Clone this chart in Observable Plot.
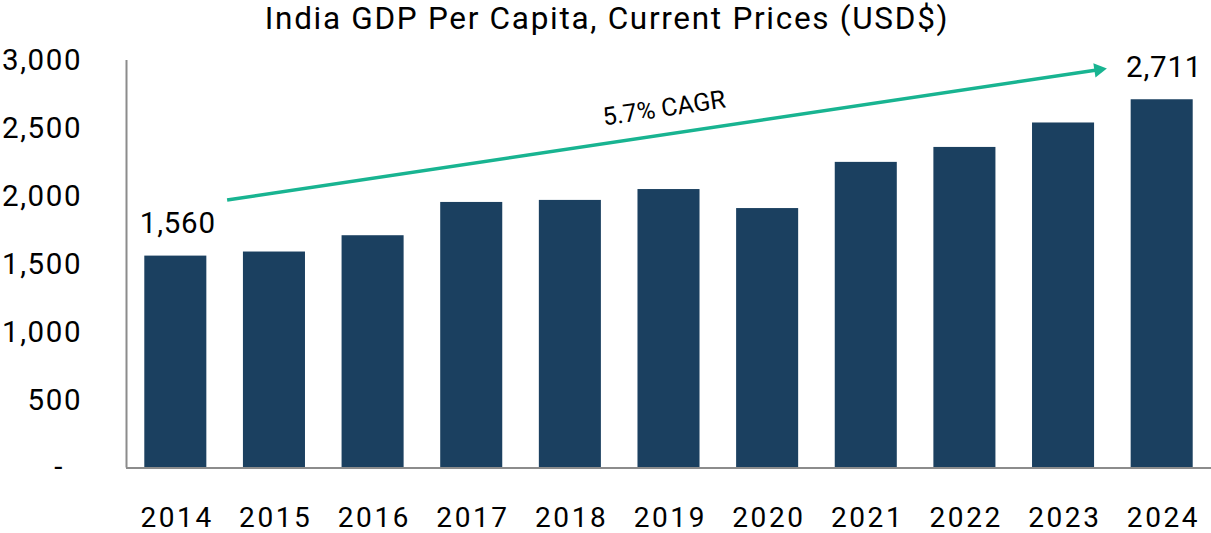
<!DOCTYPE html>
<html>
<head>
<meta charset="utf-8">
<script src="https://cdn.jsdelivr.net/npm/d3@7"></script>
<script src="https://cdn.jsdelivr.net/npm/@observablehq/plot@0.6"></script>
<style>
  html, body { margin: 0; padding: 0; background: #fff; overflow: hidden; }
  #chart svg { display: block; }
  #chart g[aria-label="y-axis tick label"] text { letter-spacing: 1.6px; }
  #chart g[aria-label="x-axis tick label"] text { letter-spacing: 2.6px; }
</style>
</head>
<body>
<div id="chart"></div>
<script>
// ---- data ----
const title = "India GDP Per Capita, Current Prices (USD$)";
const years = [2014, 2015, 2016, 2017, 2018, 2019, 2020, 2021, 2022, 2023, 2024];
const gdpPerCapita = [1560, 1590, 1710, 1955, 1970, 2050, 1910, 2250, 2360, 2540, 2711];
const yTicks = [0, 500, 1000, 1500, 2000, 2500, 3000];
const labelledYears = [2014, 2024];
const cagrLabel = "5.7% CAGR";
// annotation arrow: [year position, value] of start and end
const arrowStart = [2014.52, 1973];
const arrowEnd = [2023.355, 2932];
const cagrLabelPos = [2018.95, 2647];

const data = years.map((year, i) => ({year, value: gdpPerCapita[i]}));
const labelled = data.filter(d => labelledYears.includes(d.year));

const navy = "#1b4060";
const teal = "#18b491";
const grey = "#8c8c8c";
const fmt = d3.format(",");

const chart = Plot.plot({
  width: 1211,
  height: 533,
  marginLeft: 126,
  marginRight: 0,
  marginTop: 60,
  marginBottom: 65.5,
  style: {fontFamily: "Roboto, sans-serif", fontSize: "29.5px", color: "#000", background: "#fff"},
  x: {domain: [2013.5, 2024.5], axis: null},
  y: {domain: [0, 3000], axis: null},
  marks: [
    Plot.text([title], {frameAnchor: "top", lineAnchor: "middle", text: d => d, dx: -62, dy: -41.5, fontSize: 31.5, fill: "#000"}),
    Plot.rectY(data, {x1: d => d.year - 0.3145, x2: d => d.year + 0.3145, y: "value", fill: navy}),
    Plot.ruleX([2013.5], {y1: 0, y2: 3000, stroke: grey, strokeWidth: 2}),
    Plot.ruleY([0], {stroke: grey, strokeWidth: 2}),
    Plot.axisY(yTicks, {tickSize: 0, tickPadding: 44.4, tickFormat: d => d === 0 ? "-\u2007" : fmt(d), fill: "#000", fontSize: 29.5, label: null}),
    Plot.axisX(years, {tickSize: 0, tickPadding: 39, tickFormat: d => String(d), fill: "#000", fontSize: 28, dx: 1.3, label: null}),
    Plot.text(labelled, {x: "year", y: "value", text: d => fmt(d.value), dy: -32.5, dx: 2, fill: "#000", fontSize: 29.5}),
    Plot.link([0], {x1: () => arrowStart[0], y1: () => arrowStart[1], x2: () => arrowEnd[0], y2: () => arrowEnd[1], stroke: teal, strokeWidth: 3.5}),
    Plot.dot([0], {x: () => arrowEnd[0], y: () => arrowEnd[1], symbol: "triangle", r: 5.4, rotate: 81.5, fill: teal, stroke: null}),
    Plot.text([cagrLabel], {x: () => cagrLabelPos[0], y: () => cagrLabelPos[1], text: d => d, rotate: -8.5, fontSize: 25, fill: "#000"})
  ]
});
// text styling: letter spacing for the title and value labels
const textGroups = chart.querySelectorAll('g[aria-label="text"]');
if (textGroups[0]) textGroups[0].style.letterSpacing = "1.7px";
if (textGroups[1]) textGroups[1].style.letterSpacing = "0.8px";
document.getElementById("chart").appendChild(chart);
</script>
</body>
</html>
